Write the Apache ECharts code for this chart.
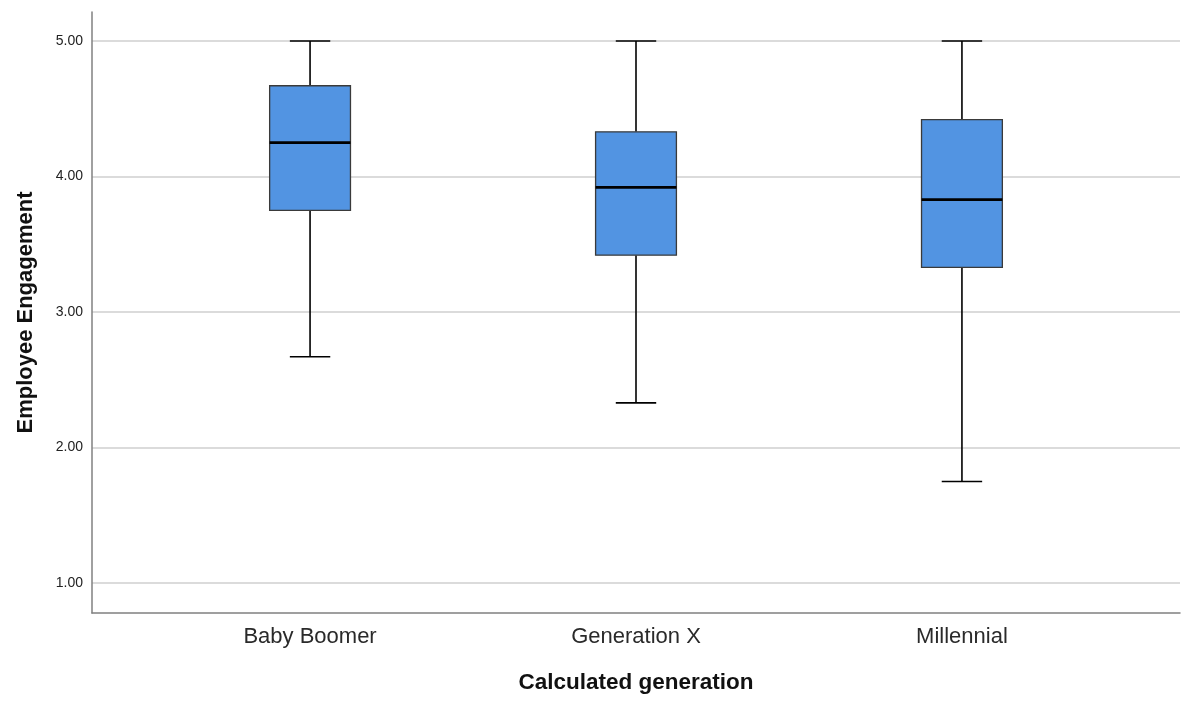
<!DOCTYPE html>
<html>
<head>
<meta charset="utf-8">
<script src="https://cdn.jsdelivr.net/npm/echarts@6/dist/echarts.min.js"></script>
<style>html,body{margin:0;padding:0;background:#fff}#c{width:1183px;height:708px}</style>
</head>
<body>
<div id="c"></div>
<script>
const categories = ['Baby Boomer', 'Generation X', 'Millennial'];
const whiskerLow = [2.67, 2.33, 1.75];
const q1 = [3.75, 3.42, 3.33];
const median = [4.25, 3.92, 3.83];
const q3 = [4.67, 4.33, 4.42];
const whiskerHigh = [5.00, 5.00, 5.00];
const yTickLabels = ['1.00', '2.00', '3.00', '4.00', '5.00'];

const boxData = categories.map((c, i) => [i, whiskerLow[i], q1[i], median[i], q3[i], whiskerHigh[i]]);

const chart = echarts.init(document.getElementById('c'), null, {renderer: 'canvas'});
const FONT = '"Liberation Sans", Arial, sans-serif';

function renderBox(params, api) {
  const x = api.value(0);
  const lo = api.coord([x, api.value(1)]);
  const b1 = api.coord([x, api.value(2)]);
  const md = api.coord([x, api.value(3)]);
  const b3 = api.coord([x, api.value(4)]);
  const hi = api.coord([x, api.value(5)]);
  const halfBox = api.size([0.124, 0])[0];
  const halfCap = api.size([0.062, 0])[0];
  const cx = lo[0];
  const wStyle = {stroke: '#000', lineWidth: 1.6};
  return {
    type: 'group',
    children: [
      {type: 'line', shape: {x1: cx, y1: lo[1], x2: cx, y2: b1[1]}, style: wStyle},
      {type: 'line', shape: {x1: cx, y1: b3[1], x2: cx, y2: hi[1]}, style: wStyle},
      {type: 'line', shape: {x1: cx - halfCap, y1: lo[1], x2: cx + halfCap, y2: lo[1]}, style: wStyle},
      {type: 'line', shape: {x1: cx - halfCap, y1: hi[1], x2: cx + halfCap, y2: hi[1]}, style: wStyle},
      {type: 'rect', shape: {x: cx - halfBox, y: b3[1], width: 2 * halfBox, height: b1[1] - b3[1]},
        style: {fill: '#5294E2', stroke: '#3a3a3a', lineWidth: 1.3}},
      {type: 'line', shape: {x1: cx - halfBox, y1: md[1], x2: cx + halfBox, y2: md[1]},
        style: {stroke: '#000', lineWidth: 2.6}}
    ]
  };
}

chart.setOption({
  animation: false,
  backgroundColor: '#fff',
  grid: {left: 92, right: 3, top: 12, bottom: 95, containLabel: false},
  xAxis: {
    type: 'value',
    min: -0.669, max: 2.669,
    splitNumber: 3,
    name: 'Calculated generation',
    nameLocation: 'middle',
    nameGap: 58,
    nameTextStyle: {fontFamily: FONT, fontSize: 22.5, fontWeight: 'bold', color: '#111', verticalAlign: 'top'},
    axisLine: {show: true, onZero: false, lineStyle: {color: '#808080', width: 1.5}},
    axisTick: {show: false},
    splitLine: {show: false},
    axisLabel: {
      margin: 13,
      fontFamily: FONT, fontSize: 22, color: '#2a2a2a',
      showMinLabel: false, showMaxLabel: false,
      formatter: function (v) {
        const r = Math.round(v);
        return (Math.abs(v - r) < 1e-6 && r >= 0 && r < categories.length) ? categories[r] : '';
      }
    }
  },
  yAxis: {
    type: 'value',
    min: 0.78, max: 5.214,
    name: 'Employee Engagement',
    nameLocation: 'middle',
    nameGap: 55,
    nameRotate: 90,
    nameTextStyle: {fontFamily: FONT, fontSize: 22, fontWeight: 'bold', color: '#111'},
    axisLine: {show: true, onZero: false, lineStyle: {color: '#808080', width: 1.5}},
    axisTick: {show: false},
    splitLine: {show: true, showMinLine: false, showMaxLine: false, lineStyle: {color: '#cfcfcf', width: 1.5}},
    axisLabel: {
      margin: 9,
      fontFamily: FONT, fontSize: 14, color: '#222',
      showMinLabel: false, showMaxLabel: false,
      formatter: function (v) {
        const r = Math.round(v);
        return (Math.abs(v - r) < 1e-6 && r >= 1 && r <= 5) ? yTickLabels[r - 1] : '';
      }
    }
  },
  series: [{
    type: 'custom',
    renderItem: renderBox,
    encode: {x: 0, y: [1, 2, 3, 4, 5]},
    data: boxData,
    clip: false
  }]
});
</script>
</body>
</html>
